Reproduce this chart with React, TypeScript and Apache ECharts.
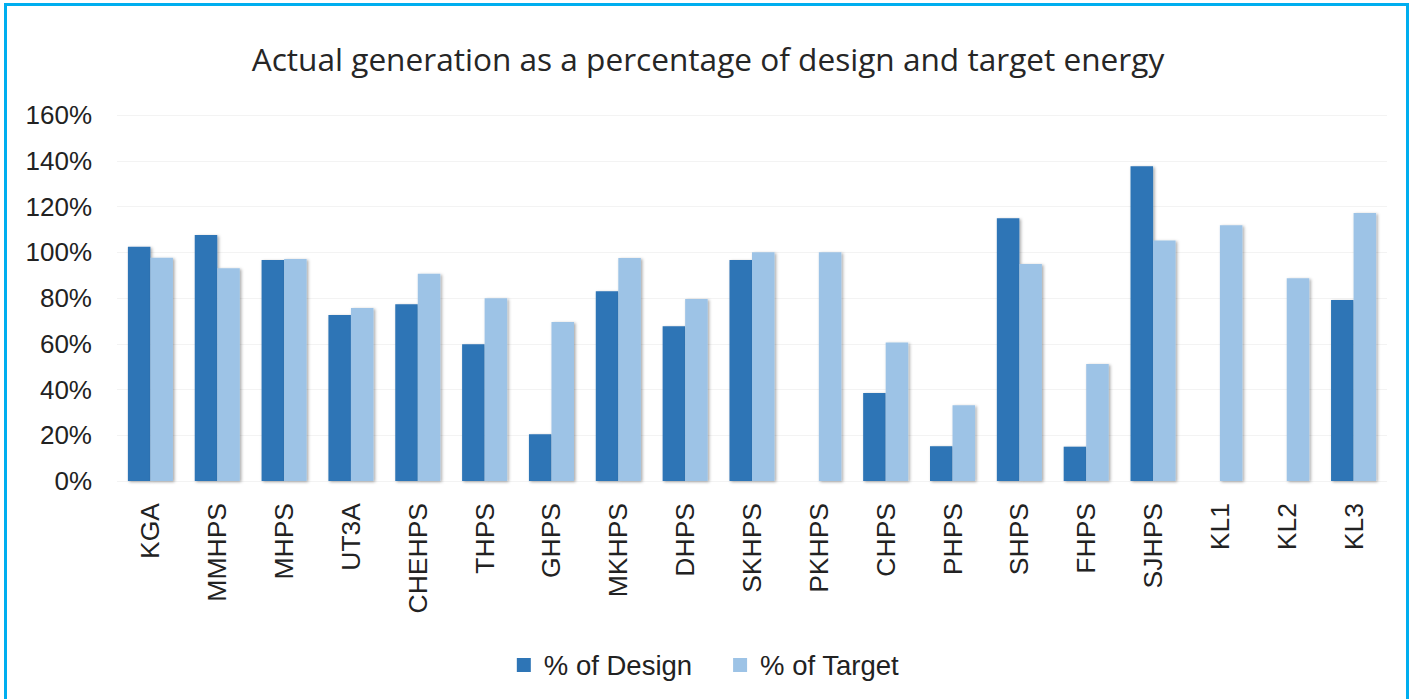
import React, { useEffect, useRef } from "react";
import * as echarts from "echarts";

const titleText = "Actual generation as a percentage of design and target energy";
const categories = ["KGA", "MMHPS", "MHPS", "UT3A", "CHEHPS", "THPS", "GHPS", "MKHPS", "DHPS", "SKHPS", "PKHPS", "CHPS", "PHPS", "SHPS", "FHPS", "SJHPS", "KL1", "KL2", "KL3"];
const designPct = [102.4, 107.5, 96.6, 72.6, 77.3, 59.8, 20.4, 82.9, 67.6, 96.6, 0, 38.5, 15.2, 114.9, 15.0, 137.6, 0, 0, 79.1];
const targetPct = [97.6, 93.0, 97.1, 75.6, 90.6, 79.9, 69.5, 97.5, 79.6, 100.0, 100.0, 60.5, 33.1, 94.9, 51.2, 105.1, 111.8, 88.6, 117.2];
const seriesNames = ["% of Design", "% of Target"];

const shadow = {
  shadowColor: "rgba(0,0,0,0.35)",
  shadowBlur: 3,
  shadowOffsetX: 1.5,
  shadowOffsetY: 1,
};

export default function App() {
  const ref = useRef<HTMLDivElement>(null);
  useEffect(() => {
    if (!ref.current) return;
    const chart = echarts.init(ref.current, null, { renderer: "svg" });
    chart.setOption({
      animation: false,
      backgroundColor: "#ffffff",
      title: {
        text: titleText,
        left: "center",
        top: 37,
        textStyle: {
          fontFamily: "Open Sans",
          fontSize: 31.6,
          fontWeight: "normal",
          color: "#262626",
        },
      },
      graphic: [
        {
          type: "rect",
          shape: { x: 5.5, y: 4.5, width: 1402, height: 700 },
          style: { fill: "none", stroke: "#00AEEF", lineWidth: 3 },
          silent: true,
        },
      ],
      legend: {
        data: seriesNames,
        bottom: 15,
        left: "center",
        itemWidth: 14,
        itemHeight: 14,
        itemGap: 41,
        icon: "rect",
        textStyle: {
          fontFamily: "Liberation Sans",
          fontSize: 27.5,
          color: "#222",
          padding: [0, 0, 0, 8],
        },
      },
      grid: {
        left: 117,
        right: 29,
        top: 115,
        bottom: 218,
        containLabel: false,
      },
      xAxis: {
        type: "category",
        data: categories,
        axisLine: {
          show: true,
          lineStyle: { color: "#a6a6a6", width: 1.5, shadowColor: "rgba(0,0,0,0.3)", shadowBlur: 2, shadowOffsetY: 1 },
        },
        axisTick: { show: false },
        axisLabel: {
          rotate: 90,
          margin: 22,
          interval: 0,
          fontFamily: "Liberation Sans",
          fontSize: 26.5,
          color: "#222",
        },
      },
      yAxis: {
        type: "value",
        min: 0,
        max: 160,
        interval: 20,
        axisLine: { show: false },
        axisTick: { show: false },
        splitLine: { show: true, lineStyle: { color: "#f3f3f3", width: 1 } },
        axisLabel: {
          formatter: "{value}%",
          margin: 25,
          fontFamily: "Liberation Sans",
          fontSize: 26,
          color: "#222",
        },
      },
      series: [
        {
          name: seriesNames[0],
          type: "bar",
          data: designPct,
          barGap: "0%",
          barCategoryGap: "32.6%",
          itemStyle: { color: "#2E75B6", ...shadow },
        },
        {
          name: seriesNames[1],
          type: "bar",
          data: targetPct,
          barGap: "0%",
          barCategoryGap: "32.6%",
          itemStyle: { color: "#9DC3E6", ...shadow },
        },
      ],
    });
    return () => chart.dispose();
  }, []);
  return (
    <div
      ref={ref}
      style={{ position: "fixed", left: 0, top: 0, width: 1416, height: 699 }}
    />
  );
}
